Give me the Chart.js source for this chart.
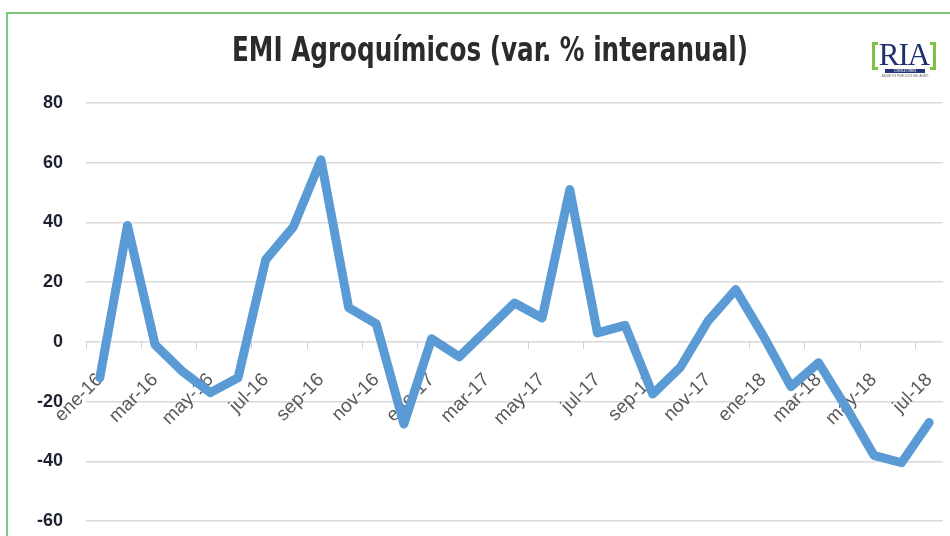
<!DOCTYPE html>
<html>
<head>
<meta charset="utf-8">
<script src="https://cdn.jsdelivr.net/npm/chart.js@4.4.1/dist/chart.umd.min.js"></script>
<style>
  html, body { margin: 0; padding: 0; background: #fff; overflow: hidden; }
  #wrap { position: relative; width: 950px; height: 536px; }
  #c { position: absolute; left: 0; top: 0; }
  #frame { position: absolute; left: 6px; top: 12px; width: 1000px; height: 600px; border: 2px solid #7cc97c; box-sizing: border-box; pointer-events: none; }
  #logo { position: absolute; left: 872px; top: 42px; width: 64px; height: 40px; font-family: 'Liberation Serif', serif; }
  #logo .bl, #logo .br { position: absolute; top: 0; width: 6px; height: 28px; border: 3px solid #7dc242; box-sizing: border-box; }
  #logo .bl { left: 0; border-right: none; }
  #logo .br { right: 0; border-left: none; }
  #logo .t { position: absolute; left: 0; width: 64px; top: -5px; text-align: center; font-size: 31px; color: #1f2f6e; letter-spacing: -1px; }
  #logo .bar { position: absolute; left: 13px; top: 27px; width: 40px; height: 4px; background: #26357a; color: #fff; font: 3px 'Liberation Sans', sans-serif; text-align: center; line-height: 4px; overflow: hidden; }
  #logo .sub { position: absolute; left: 3px; top: 32px; width: 60px; font: 3px 'Liberation Sans', sans-serif; color: #666; text-align: center; white-space: nowrap; overflow: hidden; }
</style>
</head>
<body>
<div id="wrap">
  <canvas id="c" width="950" height="536"></canvas>
  <div id="frame"></div>
  <div id="logo">
    <div class="bl"></div><div class="br"></div>
    <div class="t">RIA</div>
    <div class="bar">CONSULTORES</div>
    <div class="sub">ASUNTOS PÚBLICOS DEL AGRO</div>
  </div>
</div>
<script>
const chartTitle = 'EMI Agroquímicos (var. % interanual)';
const months = [
  'ene-16','feb-16','mar-16','abr-16','may-16','jun-16','jul-16','ago-16','sep-16','oct-16','nov-16','dic-16',
  'ene-17','feb-17','mar-17','abr-17','may-17','jun-17','jul-17','ago-17','sep-17','oct-17','nov-17','dic-17',
  'ene-18','feb-18','mar-18','abr-18','may-18','jun-18','jul-18'
];
const emiValues = [
  -12, 39, -1, -10, -17, -12, 27.5, 38.5, 61, 11.5, 6, -27.5,
  1, -5, 4, 13, 8, 51, 3, 5.5, -17.5, -8.5, 7, 17.5,
  2, -15, -7, -22, -38, -40.5, -27
];
const yTicks = { min: -60, max: 80, step: 20 };

const titlePlugin = {
  id: 'customTitle',
  afterDraw(chart) {
    const ctx = chart.ctx;
    ctx.save();
    ctx.font = "bold 33px 'Liberation Sans Narrow', 'DejaVu Sans Condensed', sans-serif";
    ctx.fillStyle = '#2b2b2b';
    ctx.textAlign = 'center';
    ctx.textBaseline = 'middle';
    const w = ctx.measureText(chartTitle).width;
    ctx.translate(490, 52);
    ctx.scale(516 / w, 1);
    ctx.fillText(chartTitle, 0, 0);
    ctx.restore();
  }
};

new Chart(document.getElementById('c'), {
  type: 'line',
  data: {
    labels: months,
    datasets: [{
      data: emiValues,
      borderColor: '#5b9bd5',
      borderWidth: 9,
      pointRadius: 0,
      pointHoverRadius: 0,
      tension: 0,
      fill: false,
      borderJoinStyle: 'round',
      borderCapStyle: 'round'
    }]
  },
  options: {
    responsive: false,
    devicePixelRatio: 1,
    animation: false,
    layout: { padding: { top: 103, left: 0, right: 7, bottom: 15 } },
    plugins: { legend: { display: false }, tooltip: { enabled: false }, title: { display: false } },
    scales: {
      x: {
        type: 'category',
        position: { y: 0 },
        offset: true,
        afterFit(scale) { scale.height = 0; scale.paddingLeft = 0; scale.paddingRight = 0; },
        border: { display: false },
        grid: {
          offset: true,
          drawOnChartArea: false,
          drawTicks: true,
          tickLength: 7,
          color: (ctx) => (ctx.index % 2 === 0 ? '#d0d0d0' : 'rgba(0,0,0,0)')
        },
        ticks: {
          autoSkip: false,
          minRotation: 45,
          maxRotation: 45,
          padding: 20,
          color: '#595959',
          font: { family: "'Liberation Sans', sans-serif", size: 19 },
          callback: function (v, i) { return i % 2 === 0 ? months[i] : ''; }
        }
      },
      y: {
        min: yTicks.min,
        max: yTicks.max,
        border: { display: false },
        afterFit(scale) { scale.width = 86; },
        grid: { color: '#d9d9d9', lineWidth: 1.5, drawTicks: true, tickLength: 23, tickColor: 'rgba(0,0,0,0)' },
        ticks: {
          stepSize: yTicks.step,
          padding: 0,
          color: '#1e2230',
          font: { family: "'Liberation Sans', sans-serif", size: 18, weight: 'bold' }
        }
      }
    }
  },
  plugins: [titlePlugin]
});
</script>
</body>
</html>
